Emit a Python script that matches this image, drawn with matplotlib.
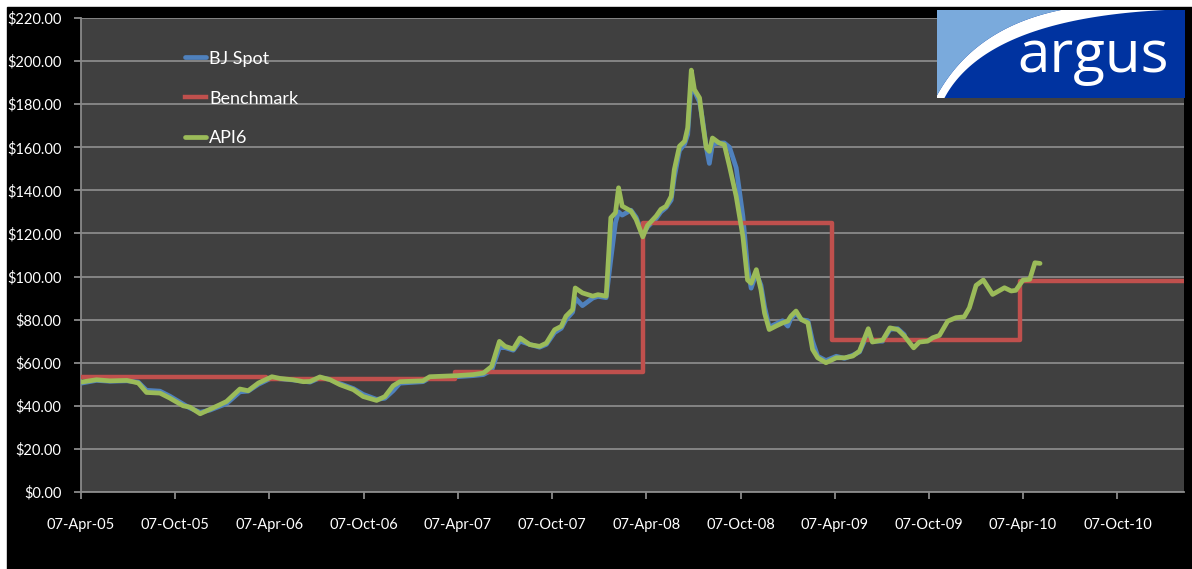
import numpy as np
import pandas as pd
import matplotlib
matplotlib.use("Agg")
import matplotlib.pyplot as plt
import matplotlib.dates as mdates
from matplotlib.patches import Rectangle, Polygon

# weekly-ish readings (US$/t)
api6_dates = [
    "2005-04-07", "2005-05-07", "2005-06-02", "2005-07-05", "2005-07-27", "2005-08-12",
    "2005-09-07", "2005-09-26", "2005-10-22", "2005-11-04", "2005-11-24", "2005-12-13",
    "2006-01-01", "2006-01-14", "2006-02-09", "2006-02-25", "2006-03-17", "2006-04-12",
    "2006-04-28", "2006-05-23", "2006-06-12", "2006-06-25", "2006-07-14", "2006-08-03",
    "2006-08-22", "2006-09-17", "2006-10-06", "2006-11-01", "2006-11-17", "2006-12-03",
    "2006-12-16", "2007-01-30", "2007-02-12", "2007-04-05", "2007-05-07", "2007-05-27",
    "2007-06-12", "2007-06-27", "2007-07-08", "2007-07-24", "2007-08-06", "2007-08-25",
    "2007-09-13", "2007-09-26", "2007-10-12", "2007-10-25", "2007-11-03", "2007-11-16",
    "2007-11-21", "2007-12-05", "2007-12-25", "2008-01-04", "2008-01-20", "2008-01-29",
    "2008-02-07", "2008-02-13", "2008-02-20", "2008-03-08", "2008-03-18", "2008-03-31",
    "2008-04-09", "2008-04-26", "2008-05-05", "2008-05-15", "2008-05-25", "2008-05-31",
    "2008-06-10", "2008-06-20", "2008-06-26", "2008-07-03", "2008-07-09", "2008-07-19",
    "2008-07-25", "2008-08-01", "2008-08-07", "2008-08-13", "2008-08-26", "2008-09-05",
    "2008-09-15", "2008-09-28", "2008-10-11", "2008-10-20", "2008-10-27", "2008-11-06",
    "2008-11-15", "2008-11-22", "2008-12-01", "2008-12-14", "2008-12-27", "2009-01-06",
    "2009-01-12", "2009-01-22", "2009-02-01", "2009-02-14", "2009-02-23", "2009-03-05",
    "2009-03-21", "2009-04-10", "2009-04-26", "2009-05-12", "2009-05-25", "2009-06-11",
    "2009-06-19", "2009-07-09", "2009-07-23", "2009-08-07", "2009-08-20", "2009-09-07",
    "2009-09-18", "2009-10-04", "2009-10-14", "2009-10-27", "2009-11-12", "2009-11-28",
    "2009-12-14", "2009-12-24", "2010-01-06", "2010-01-20", "2010-02-07", "2010-03-02",
    "2010-03-15", "2010-03-24", "2010-04-07", "2010-04-20", "2010-04-30", "2010-05-10",
]
api6 = [
    51.0, 52.1, 51.6, 51.8, 50.6, 46.2,
    45.9, 43.6, 40.0, 39.4, 36.3, 38.4,
    40.5, 42.0, 47.8, 47.0, 50.6, 53.5,
    52.7, 52.1, 51.2, 51.3, 53.4, 52.1,
    49.8, 47.5, 44.3, 42.5, 44.3, 49.3,
    51.2, 51.6, 53.5, 54.0, 54.5, 55.2,
    58.3, 69.9, 67.6, 66.4, 71.5, 68.4,
    67.6, 69.1, 75.3, 76.9, 81.6, 84.7,
    94.7, 92.4, 90.9, 91.6, 90.9, 127.3,
    129.6, 141.2, 132.7, 130.4, 126.5, 118.4,
    123.7, 128.1, 131.2, 132.6, 137.2, 149.6,
    160.5, 162.8, 169.0, 195.8, 186.8, 182.9,
    171.3, 159.7, 158.1, 164.3, 162.0, 161.2,
    151.2, 137.2, 118.6, 98.4, 96.9, 103.2,
    93.8, 83.0, 75.4, 77.0, 78.5, 79.3,
    81.6, 84.0, 80.1, 78.5, 66.2, 62.3,
    60.0, 62.3, 62.3, 63.1, 65.4, 75.8,
    69.6, 70.5, 76.2, 75.4, 72.4, 66.9,
    69.6, 70.0, 71.6, 72.7, 79.3, 80.9,
    81.3, 85.5, 95.9, 98.4, 91.7, 94.8,
    93.3, 93.6, 98.4, 98.7, 106.4, 106.1,
]
# BJ Spot shares the same dates, up to Aug 2009
bj_spot = [
    50.5, 51.8, 51.4, 51.6, 51.0, 47.2,
    46.8, 44.5, 40.8, 39.0, 37.0, 38.0,
    39.8, 41.0, 46.5, 46.8, 50.0, 53.0,
    52.5, 52.0, 51.4, 51.0, 53.0, 52.3,
    50.3, 48.0, 45.3, 43.0, 43.5, 47.0,
    50.5, 51.2, 53.0, 53.5, 54.0, 54.5,
    56.5, 67.0, 67.0, 65.8, 70.0, 68.5,
    67.2, 68.5, 74.0, 76.0, 80.0, 83.5,
    90.0, 86.5, 90.0, 90.8, 90.2, 108.0,
    125.0, 130.0, 128.5, 130.8, 127.5, 119.5,
    123.0, 127.0, 130.0, 132.0, 135.5, 146.0,
    158.5, 161.5, 166.0, 190.0, 186.0, 181.0,
    172.5, 160.0, 152.5, 161.5, 162.0, 162.0,
    160.0, 150.5, 128.0, 104.0, 94.6, 101.5,
    96.0, 86.0, 76.5, 78.0, 79.5, 77.0,
    80.5, 83.0, 80.0, 79.5, 70.0, 63.0,
    61.0, 63.0, 62.0, 63.5, 65.0, 74.0,
    70.0, 70.0, 75.5, 75.8, 73.0,
]
bench_dates = ["2005-04-07", "2006-04-01", "2007-04-01", "2008-04-01",
               "2009-04-01", "2010-04-01", "2011-02-13"]
benchmark = [53.4, 52.5, 55.7, 125.0, 70.75, 98.0, 98.0]

tick_dates = ["2005-04-07", "2005-10-07", "2006-04-07", "2006-10-07", "2007-04-07",
              "2007-10-07", "2008-04-07", "2008-10-07", "2009-04-07", "2009-10-07",
              "2010-04-07", "2010-10-07"]

api6_x = pd.to_datetime(api6_dates)
bj_x = api6_x[:len(bj_spot)]
bench_x = pd.to_datetime(bench_dates)

plt.rcParams['font.family'] = ['Lato', 'DejaVu Sans']

fig = plt.figure(figsize=(11.92, 5.69), dpi=100, facecolor="white")
fig.patches.append(Rectangle((7 / 1192, 0), 1 - 7 / 1192, 1 - 7 / 569,
                             transform=fig.transFigure, color="black", zorder=-10))

ax = fig.add_axes([81 / 1192, 77 / 569, 1103 / 1192, 474 / 569])
ax.set_facecolor("#404040")
grid_c = "#8a8a8a"

ax.plot(bj_x, bj_spot, color="#4f81bd", lw=3.4, label="BJ Spot", solid_capstyle="round", zorder=3)
ax.plot(bench_x, benchmark, color="#c0504d", lw=3.2, drawstyle="steps-post", label="Benchmark", zorder=4)
ax.plot(api6_x, api6, color="#9bbb59", lw=3.4, label="API6", solid_capstyle="round", zorder=5)

ax.set_ylim(0, 220)
ax.set_yticks(np.arange(0, 221, 20))
ax.yaxis.set_major_formatter(matplotlib.ticker.FuncFormatter(lambda v, p: f"${v:.2f}"))
ax.set_xlim(pd.Timestamp("2005-04-07"), pd.Timestamp("2011-02-13"))
ax.set_xticks(pd.to_datetime(tick_dates))
ax.xaxis.set_major_formatter(mdates.DateFormatter("%d-%b-%y"))

ax.grid(axis="y", color=grid_c, lw=1.3, zorder=1)
ax.set_axisbelow(True)
for s in ["top", "right"]:
    ax.spines[s].set_visible(False)
for s in ["left", "bottom"]:
    ax.spines[s].set_color(grid_c)
    ax.spines[s].set_linewidth(1.3)
ax.tick_params(axis="both", colors=grid_c, length=5, width=1.3, labelcolor="white", labelsize=10.5)
ax.tick_params(axis="x", pad=14)
ax.tick_params(axis="y", pad=9)

leg = ax.legend(loc="upper left", bbox_to_anchor=(0.094, 0.931), frameon=False, fontsize=13,
                handlelength=1.2, handletextpad=0.15, labelspacing=1.32, borderpad=0, borderaxespad=0)
for t in leg.get_texts():
    t.set_color("white")

# argus logo
lax = fig.add_axes([937 / 1192, (569 - 98) / 569, 248 / 1192, 88 / 569])
lax.set_xlim(0, 1)
lax.set_ylim(0, 1)
lax.axis("off")
lax.add_patch(Rectangle((0, 0), 1, 1, color="#0033a0"))
t = np.linspace(0, 1, 60)[:, None]
def bez(p0, p1, p2):
    p0, p1, p2 = map(np.array, (p0, p1, p2))
    return (1 - t) ** 2 * p0 + 2 * (1 - t) * t * p1 + t ** 2 * p2
upper = bez((0, 0.03), (0.15, 0.8), (0.5, 1.0))
lower = bez((0.03, 0.0), (0.2, 0.9), (0.92, 1.0))
lax.add_patch(Polygon(np.vstack([lower, upper[::-1], [[0, 0]]]), color="white", lw=0))
lax.add_patch(Polygon(np.vstack([upper, [[0, 1]]]), color="#7aaadc", lw=0))
lax.text(0.63, 0.29, "argus", color="white", fontsize=42, family="Open Sans",
         ha="center", va="baseline")

fig.savefig("out.png", dpi=100, facecolor=fig.get_facecolor())
